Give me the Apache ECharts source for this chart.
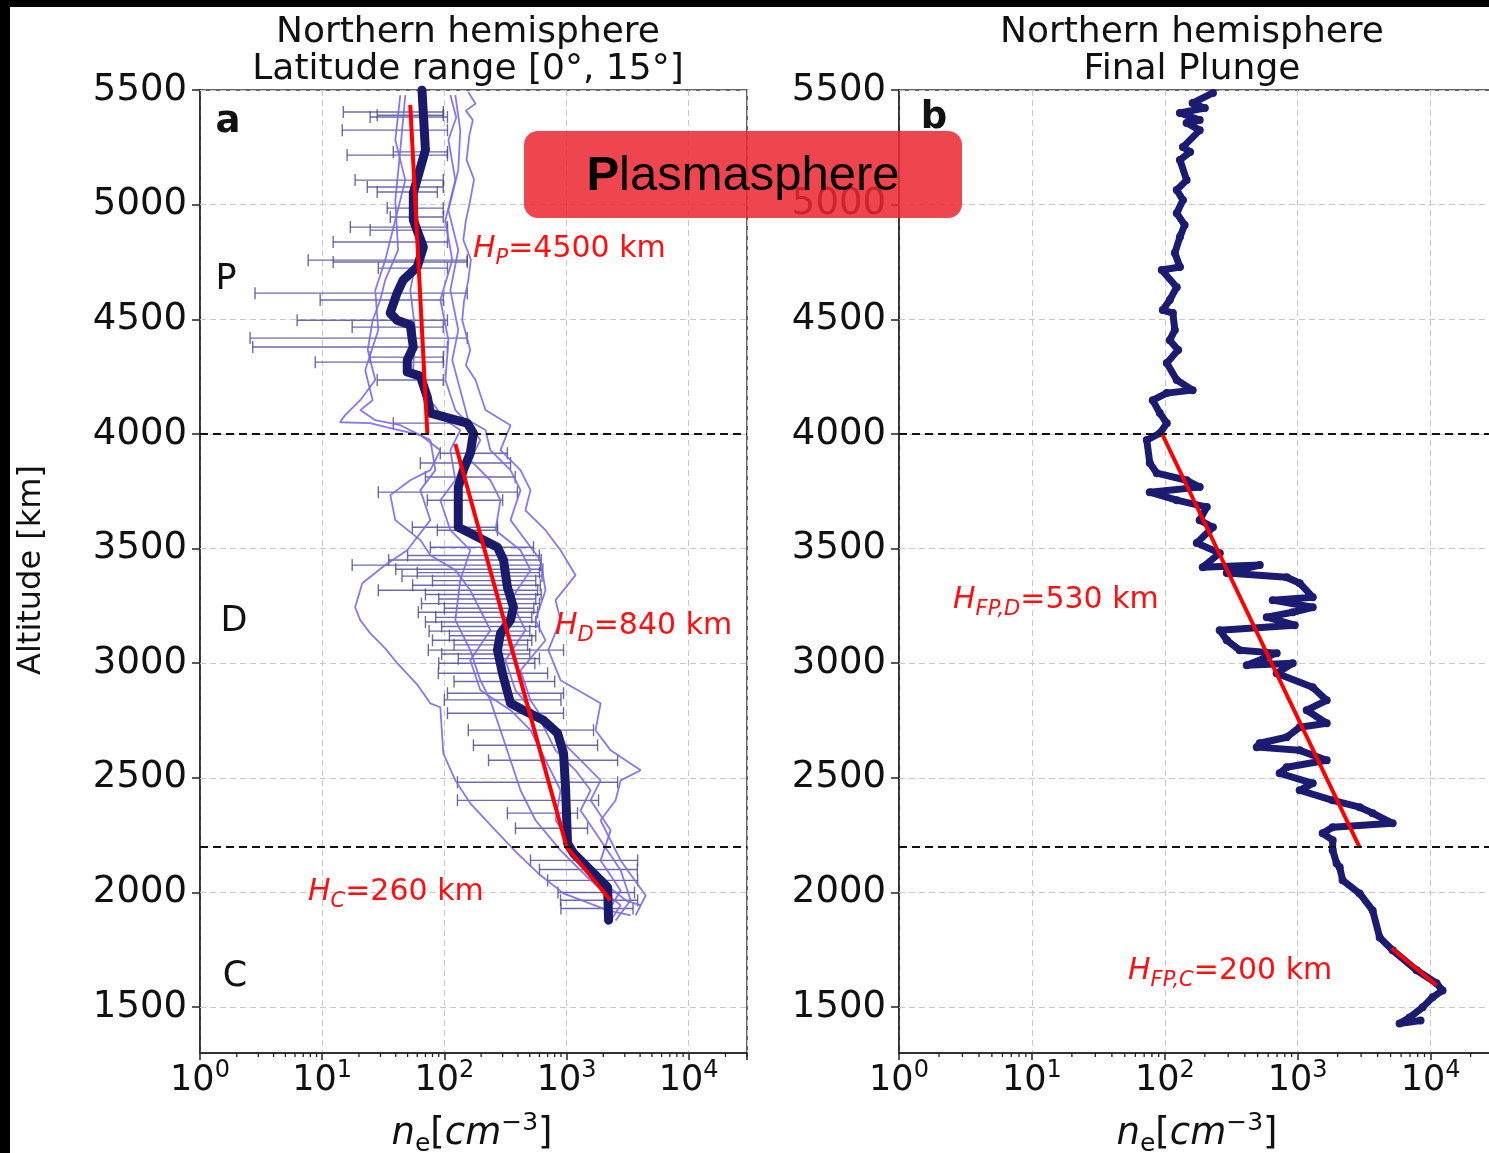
<!DOCTYPE html>
<html><head><meta charset="utf-8">
<script src="https://cdn.jsdelivr.net/npm/echarts@6/dist/echarts.min.js"></script>
<style>html,body{margin:0;padding:0;background:#fff;}#c{width:1489px;height:1153px;}</style>
</head><body><div id="c"></div><script>
// ---------- data ----------
const altTicks = [1500, 2000, 2500, 3000, 3500, 4000, 4500, 5000, 5500];
const minorTicksX = [2,3,4,5,6,7,8,9,20,30,40,50,60,70,80,90,200,300,400,500,600,700,800,900,2000,3000,4000,5000,6000,7000,8000,9000,20000,30000];
const boundaryAlts = [4000, 2200];

// panel a: individual passes [ne, altitude]
const pass1 = [[157,5491],[180,5440],[150,5410],[171,5369],[160,5300],[152,5195],[175,5110],[163,5020],[150,4930],[143,4846],[165,4760],[157,4671],[145,4580],[140,4496],[163,4366],[150,4300],[180,4235],[217,4104],[348,4038],[288,3929],[420,3842],[507,3755],[461,3667],[673,3580],[893,3493],[1186,3384],[813,3275],[893,3188],[710,3057],[893,2926],[1900,2825],[1729,2708],[2296,2620],[4044,2533],[2773,2489],[2523,2402],[1900,2315],[2773,2140],[4444,1987],[3680,1900]];
const pass2 = [[112,5478],[125,5380],[108,5282],[123,5107],[102,4933],[116,4758],[92.7,4584],[108,4409],[102,4235],[123,4104],[163,4038],[197,3973],[163,3886],[238,3798],[288,3711],[262,3580],[420,3493],[507,3406],[348,3275],[461,3144],[316,3013],[382,2882],[612,2751],[813,2620],[1186,2533],[1573,2446],[1303,2358],[1900,2228],[2773,2097],[3349,1966],[2523,1878]];
const pass3 = [[63.6,5478],[69.8,5238],[60,5120],[57.8,5020],[63.6,4846],[52.6,4627],[57.8,4453],[55.5,4278],[76.8,4147],[102,4060],[135,4017],[112,3929],[123,3798],[92.7,3711],[112,3580],[163,3493],[135,3362],[123,3188],[163,3057],[197,2926],[238,2838],[288,2708],[348,2577],[420,2446],[557,2315],[893,2184],[1573,2053],[2773,1944],[2296,1878]];
const pass4 = [[43.6,5478],[39.7,5282],[47.9,5107],[39.7,4933],[32.8,4758],[27.2,4627],[28.8,4453],[22.5,4278],[25.9,4147],[20.5,4104],[27.2,4060],[43.6,4038],[76.8,3973],[84.4,3842],[63.6,3755],[76.8,3624],[49.6,3493],[32.8,3428],[21.3,3349],[18.6,3244],[20.5,3188],[24.7,3131],[32.8,3065],[41.2,3000],[60.5,2904],[76.8,2825],[92.7,2808],[98,2607],[123,2489],[163,2389],[262,2271],[396,2171],[612,2075],[945,1996],[2180,1922],[3349,1900]];
const pass5 = [[47.9,5478],[43.6,5238],[39.7,5020],[41.8,4802],[32.8,4671],[29.9,4584],[25.9,4496],[23.6,4366],[27.2,4235],[20.5,4147],[15.4,4082],[14.0,4051],[24.7,4047],[36.1,4025],[63.6,3995],[92.7,3929],[76.8,3842],[52.6,3798],[36.1,3733],[39.7,3624],[63.6,3537],[76.8,3471],[123,3406],[163,3318],[197,3231],[238,3144],[163,3013],[197,2882],[348,2795],[507,2708],[673,2577],[893,2446],[813,2315],[1186,2184],[1900,2053],[3047,1966],[4044,1944]];
const pass6 = [[123,5478],[135,5325],[130,5151],[108,4976],[130,4802],[112,4627],[130,4453],[116,4322],[135,4191],[157,4060],[217,4017],[238,3929],[348,3842],[420,3755],[348,3624],[612,3449],[673,3318],[557,3188],[673,3100],[420,2969],[507,2838],[739,2708],[1303,2577],[1900,2489],[1573,2402],[2296,2271],[1900,2140],[2773,2009],[2089,1900]];
const passes = [pass1, pass2, pass3, pass4, pass5, pass6];

// panel a: mean profile [ne, altitude]
const meanProfile = [[65.6,5500],[70,5238],[55.7,5051],[55.7,4933],[67.3,4815],[60,4728],[46,4671],[41,4614],[36,4527],[41,4496],[52.6,4475],[55.7,4379],[49.7,4322],[49.7,4270],[63.6,4252],[72.6,4160],[76.8,4091],[154,4047],[173,4003],[163,3916],[143,3842],[130,3768],[130,3593],[163,3567],[272,3506],[305,3449],[328,3332],[368,3244],[348,3188],[288,3131],[272,3057],[299,2956],[348,2825],[444,2795],[648,2751],[844,2695],[945,2607],[981,2459],[1019,2215],[1141,2171],[2168,2023],[2210,1879]];

// panel a: error bars [altitude, low, high]
const errorBars = [[5404,14.9,98],[5390,28.2,98],[5382,24.7,106],[5325,14.6,106],[5230,38.2,106],[5216,16.0,106],[5107,18.6,98],[5077,23.4,98],[5055,28.2,87.6],[4985,34.1,98],[4946,36.1,98],[4902,17.0,106],[4889,24.7,106],[4837,12.3,106],[4758,7.68,154],[4750,12.3,154],[4723,28.8,106],[4614,2.82,154],[4584,9.63,98],[4496,6.24,106],[4466,17.6,98],[4418,2.57,154],[4379,2.7,106],[4335,24.7,98],[4313,8.77,98],[4235,28.2,98],[4047,38.2,154],
[3916,92.7,328],[3873,63.6,348],[3812,70,380],[3746,28.8,396],[3711,72.6,300],[3593,54.7,272],[3580,87.6,272],[3506,76.8,537],[3470,50,600],[3450,35,620],[3428,17.6,612],[3410,40,640],[3395,60,600],[3380,45,630],[3360,80,560],[3340,55,610],[3318,28.8,580],[3300,70,620],[3280,90,560],[3260,65,600],[3240,100,540],[3222,61.2,580],[3200,85,520],[3180,70,560],[3160,95,600],[3140,75,500],[3120,110,560],[3100,80,520],[3080,120,480],[3057,73.9,945],[3040,95,500],[3020,130,600],[3000,90,550],[2956,89.3,700],[2920,120,800],[2869,106,945],[2840,100,900],[2782,106,945],[2708,157,1664],[2642,173,1795],[2577,230,2618],[2481,128,2618],[2402,128,1829],[2346,328,1230],[2280,382,1486],[2140,507,3819],[2100,600,3800],[2053,700,3819],[2000,850,3600],[1966,893,3819],[1930,900,3500]];

// fits [ne, altitude]
const fitP = [[52.6,5435],[72.6,4000]];
const fitD = [[123,3956],[1000,2200]];
const fitC = [[1000,2200],[2290,1966]];
const fitFPD = [[94.9,4003],[2925,2197]];
const fitFPC = [[5090,1757],[11090,1595]];

// panel b: final plunge profile [ne, altitude]
const finalPlunge = [[230,5487],[162,5443],[200,5421],[130,5400],[183,5369],[146,5356],[183,5325],[137,5251],[155,5230],[130,5195],[146,5107],[123,5064],[137,5020],[123,4963],[141,4911],[130,4859],[119,4789],[130,4728],[94.9,4715],[123,4640],[109,4584],[96.6,4540],[115,4527],[119,4453],[109,4409],[126,4366],[103.5,4309],[123,4235],[162,4191],[103.5,4178],[81.2,4147],[91.7,4091],[103.5,4047],[91.7,4003],[73.2,3973],[77.1,3873],[87.1,3829],[146,3798],[183,3768],[77.1,3746],[123,3711],[207,3681],[183,3624],[230,3593],[174,3524],[259,3480],[193,3419],[518,3428],[293,3393],[826,3375],[1035,3349],[1297,3288],[649,3275],[1297,3244],[917,3222],[585,3201],[950,3166],[259,3144],[293,3100],[366,3057],[695,3044],[414,2991],[917,3000],[695,2956],[1297,2895],[1652,2838],[1169,2795],[1652,2738],[1035,2721],[826,2677],[518,2651],[492,2634],[1035,2620],[1652,2577],[826,2546],[732,2520],[1297,2476],[1035,2446],[1833,2402],[2925,2372],[3664,2346],[5180,2302],[1833,2285],[1542,2258],[1833,2228],[1833,2184],[1963,2127],[2070,2110],[2178,2053],[2925,1996],[3664,1922],[4139,1804],[5180,1748],[7850,1661],[11090,1604],[12300,1573],[10350,1543],[8710,1499],[6950,1455],[5844,1429],[8400,1442]];

// ---------- chart ----------
const FONT = 'DejaVu Sans';
const RED = '#ff1010';
const chart = echarts.init(document.getElementById('c'), null, {renderer: 'canvas'});

function xAxisCfg(gi) {
  return {
    type: 'log', logBase: 10, min: 1, max: 30000, gridIndex: gi,
    axisLine: {show: true, lineStyle: {color: '#222', width: 1.5}},
    axisTick: {show: true, length: 7, lineStyle: {color: '#222', width: 1.5}},
    splitLine: {show: true, lineStyle: {color: '#c8c8c8', type: [6, 4], width: 1}},
    axisLabel: {
      margin: 6, color: '#111',
      formatter: function (v) {
        const l = Math.log10(v); const e = Math.round(l);
        if (Math.abs(l - e) > 1e-6) return '';
        return '{b|10}{s|' + e + '}';
      },
      rich: {
        b: {fontFamily: FONT, fontSize: 35, color: '#111', lineHeight: 44},
        s: {fontFamily: FONT, fontSize: 24, color: '#111', verticalAlign: 'top'}
      }
    }
  };
}
function yAxisCfg(gi) {
  return {
    type: 'value', min: 1300, max: 5500, gridIndex: gi,
    axisLine: {show: true, lineStyle: {color: '#222', width: 1.5}},
    axisTick: {show: true, customValues: altTicks, length: 8, lineStyle: {color: '#222', width: 1.5}},
    axisLabel: {customValues: altTicks, fontFamily: FONT, fontSize: 37, color: '#111', margin: 13,
      formatter: function (v) { return String(v); }},
    splitLine: {show: false}
  };
}
const greyGrid = {silent: true, symbol: 'none', z: 1, label: {show: false},
  lineStyle: {color: '#c8c8c8', type: [6, 4], width: 1}, data: altTicks.map(a => ({yAxis: a}))};
const blackDash = {silent: true, symbol: 'none', z: 6, label: {show: false},
  lineStyle: {color: '#111', type: [8, 5], width: 2}, data: boundaryAlts.map(a => ({yAxis: a}))};

function minorTickSeries(gi) {
  return {
    type: 'custom', xAxisIndex: gi, yAxisIndex: gi, clip: false, silent: true, z: 4,
    data: minorTicksX.map(v => [v, 1300]),
    renderItem: function (params, api) {
      const p = api.coord([api.value(0), api.value(1)]);
      return {type: 'line', shape: {x1: p[0], y1: p[1], x2: p[0], y2: p[1] + 4},
        style: {stroke: '#222', lineWidth: 1.3}};
    }
  };
}

const series = [];
passes.forEach(function (p, i) {
  const s = {type: 'line', xAxisIndex: 0, yAxisIndex: 0, data: p, showSymbol: false, silent: true, z: 2,
    lineStyle: {color: '#7b68ee', width: 1.8, opacity: 0.9}};
  if (i === 0) s.markLine = greyGrid;
  series.push(s);
});
series.push({
  type: 'custom', xAxisIndex: 0, yAxisIndex: 0, silent: true, z: 2,
  data: errorBars,
  renderItem: function (params, api) {
    const a = api.value(0);
    const p1 = api.coord([api.value(1), a]);
    const p2 = api.coord([api.value(2), a]);
    const st = {stroke: 'rgba(70,70,150,0.8)', lineWidth: 1.4};
    return {type: 'group', children: [
      {type: 'line', shape: {x1: p1[0], y1: p1[1], x2: p2[0], y2: p2[1]}, style: st},
      {type: 'line', shape: {x1: p1[0], y1: p1[1] - 6, x2: p1[0], y2: p1[1] + 6}, style: st},
      {type: 'line', shape: {x1: p2[0], y1: p2[1] - 6, x2: p2[0], y2: p2[1] + 6}, style: st}
    ]};
  }
});
series.push({type: 'line', xAxisIndex: 0, yAxisIndex: 0, data: meanProfile, showSymbol: false, silent: true, z: 3,
  lineStyle: {color: '#1a1a6a', width: 9, cap: 'round', join: 'round'}, markLine: blackDash});
[fitP, fitD, fitC].forEach(function (f) {
  series.push({type: 'line', xAxisIndex: 0, yAxisIndex: 0, data: f, showSymbol: false, silent: true, z: 4,
    lineStyle: {color: '#ff0000', width: 4}});
});
series.push(minorTickSeries(0));

series.push({type: 'line', xAxisIndex: 1, yAxisIndex: 1, data: finalPlunge, silent: true, z: 3,
  showSymbol: true, symbol: 'circle', symbolSize: 8, itemStyle: {color: '#1b1b72'},
  lineStyle: {color: '#1b1b72', width: 7, join: 'round', cap: 'round'}, markLine: blackDash});
[fitFPD, fitFPC].forEach(function (f, i) {
  const s = {type: 'line', xAxisIndex: 1, yAxisIndex: 1, data: f, showSymbol: false, silent: true, z: 4,
    lineStyle: {color: '#ff0000', width: 4}};
  if (i === 0) s.markLine = greyGrid;
  series.push(s);
});
series.push(minorTickSeries(1));

function txt(x, y, text, opts) {
  return Object.assign({type: 'text', x: x, y: y, z: 50, silent: true,
    style: Object.assign({text: text, fontFamily: FONT, fontSize: 35, fill: '#111', align: 'center', verticalAlign: 'middle'}, opts || {})});
}
const redRich = {
  h: {fontFamily: FONT, fontSize: 30, fontStyle: 'italic', fill: RED, lineHeight: 40},
  s: {fontFamily: FONT, fontSize: 21, fontStyle: 'italic', fill: RED, verticalAlign: 'bottom'},
  n: {fontFamily: FONT, fontSize: 30, fill: RED, lineHeight: 40}
};
const xnameRich = {
  i: {fontFamily: FONT, fontSize: 37, fontStyle: 'italic', fill: '#111', lineHeight: 46},
  r: {fontFamily: FONT, fontSize: 37, fill: '#111', lineHeight: 46},
  sb: {fontFamily: FONT, fontSize: 25, fill: '#111', verticalAlign: 'bottom'},
  sp: {fontFamily: FONT, fontSize: 25, fill: '#111', verticalAlign: 'top'}
};
const xname = '{i|n}{sb|e}{r|[}{i|cm}{sp|\u22123}{r|]}';

const graphic = [
  {type: 'rect', shape: {x: 0, y: 0, width: 1489, height: 7}, style: {fill: '#000'}, z: 100, silent: true},
  {type: 'rect', shape: {x: 0, y: 0, width: 10, height: 1153}, style: {fill: '#000'}, z: 100, silent: true},
  txt(468, 51, 'Northern hemisphere\nLatitude range [0\u00b0, 15\u00b0]', {lineHeight: 37, fontSize: 36}),
  txt(1192, 51, 'Northern hemisphere\nFinal Plunge', {lineHeight: 37, fontSize: 36}),
  Object.assign(txt(32, 570, 'Altitude [km]', {fontSize: 32}), {rotation: Math.PI / 2}),
  txt(472, 1134, '', {rich: xnameRich, text: xname}),
  txt(1197, 1134, '', {rich: xnameRich, text: xname}),
  txt(228, 122, 'a', {fontWeight: 'bold', fontSize: 37}),
  txt(934, 118, 'b', {fontWeight: 'bold', fontSize: 37}),
  txt(226, 280, 'P', {fontSize: 35}),
  txt(234, 622, 'D', {fontSize: 35}),
  txt(235, 977, 'C', {fontSize: 35}),
  txt(473, 249, '{h|H}{s|P}{n|=4500 km}', {rich: redRich, align: 'left', fill: RED}),
  txt(555, 626, '{h|H}{s|D}{n|=840 km}', {rich: redRich, align: 'left', fill: RED}),
  txt(308, 892, '{h|H}{s|C}{n|=260 km}', {rich: redRich, align: 'left', fill: RED}),
  txt(953, 600, '{h|H}{s|FP,D}{n|=530 km}', {rich: redRich, align: 'left', fill: RED}),
  txt(1128, 971, '{h|H}{s|FP,C}{n|=200 km}', {rich: redRich, align: 'left', fill: RED}),
  {type: 'rect', z: 100, silent: true, shape: {x: 524, y: 131, width: 438, height: 87, r: 14},
    style: {fill: 'rgba(236,38,50,0.86)'}},
  {type: 'text', z: 101, silent: true, x: 743, y: 176,
    style: {text: '{b|P}{n|lasmasphere}', align: 'center', verticalAlign: 'middle',
      rich: {b: {fontFamily: 'Liberation Sans', fontWeight: 'bold', fontSize: 49, fill: '#000'},
             n: {fontFamily: 'Liberation Sans', fontSize: 49, fill: '#000'}}}}
];

chart.setOption({
  animation: false,
  backgroundColor: '#fff',
  grid: [
    {left: 200, top: 90, width: 547, height: 963, show: true, borderColor: '#333', borderWidth: 1.5, backgroundColor: 'transparent', containLabel: false, outerBoundsMode: 'none'},
    {left: 899, top: 90, width: 595, height: 963, show: true, borderColor: '#333', borderWidth: 1.5, backgroundColor: 'transparent', containLabel: false, outerBoundsMode: 'none'}
  ],
  xAxis: [xAxisCfg(0), xAxisCfg(1)],
  yAxis: [yAxisCfg(0), yAxisCfg(1)],
  series: series,
  graphic: graphic
});
</script></body></html>
